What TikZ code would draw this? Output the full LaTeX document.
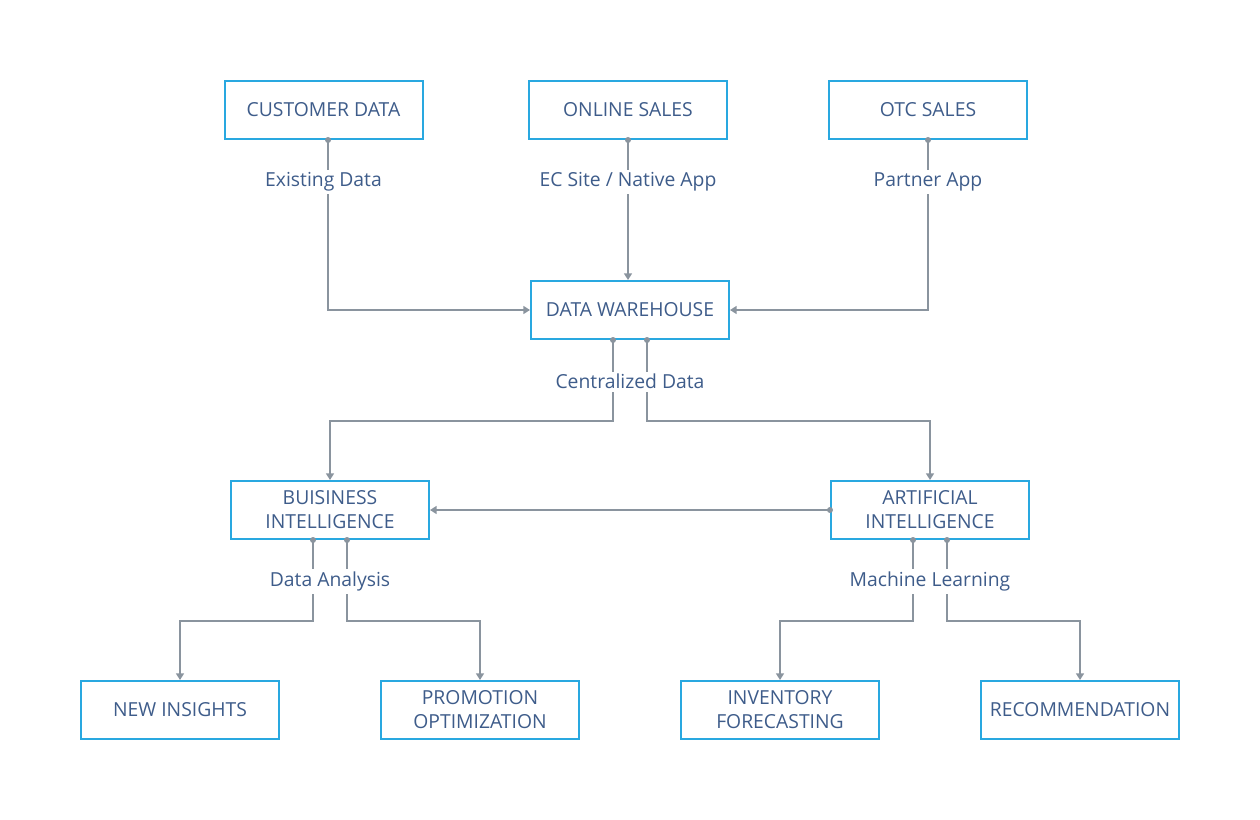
\documentclass[tikz,border=0pt]{standalone}
\usepackage{fontspec}
\setmainfont{Open Sans}
\usepackage{xcolor}
\usetikzlibrary{arrows.meta}
\definecolor{boxblue}{RGB}{41,168,224}
\definecolor{inkblue}{RGB}{62,92,138}
\definecolor{wiregray}{RGB}{138,148,158}
\begin{document}
\begin{tikzpicture}[
  x=0.75pt, y=-0.75pt,
  box/.style={draw=boxblue, line width=1.5pt, minimum width=148.5pt, minimum height=43.5pt,
    inner sep=2pt, align=center, text=inkblue, font=\fontsize{14.5}{18}\selectfont},
  lbl/.style={fill=white, inner sep=2pt, yshift=-2pt, text=inkblue, font=\fontsize{14.5}{18}\selectfont},
  link/.style={draw=wiregray, line width=1.2pt, -{Triangle[width=6pt,length=5pt]}},
  dot/.style={circle, fill=wiregray, inner sep=0pt, minimum size=4.5pt}
]
\useasboundingbox (0,0) rectangle (1260,820);
% sources
\node[box] (cust) at (323.5,110) {CUSTOMER DATA};
\node[box] (online) at (628,110) {ONLINE SALES};
\node[box] (otc) at (928,110) {OTC SALES};
\node[box] (dw) at (630,310) {DATA WAREHOUSE};
% analysis
\node[box] (bi) at (330,510) {BUISINESS\\INTELLIGENCE};
\node[box] (ai) at (930,510) {ARTIFICIAL\\INTELLIGENCE};
% outputs
\node[box] (ins) at (180,710) {NEW INSIGHTS};
\node[box] (promo) at (480,710) {PROMOTION\\OPTIMIZATION};
\node[box] (inv) at (780,710) {INVENTORY\\FORECASTING};
\node[box] (rec) at (1080,710) {RECOMMENDATION};
\coordinate (dwsplit) at (630,421);
\coordinate (bisplit) at (330,621);
\coordinate (aisplit) at (930,621);
% connectors
\draw[link] ([xshift=3.4pt]cust.south) node[dot]{} |- (dw.west);
\draw[link] (online.south) node[dot]{} -- (online.south |- dw.north);
\draw[link] (otc.south) node[dot]{} |- (dw.east);
\draw[link] ([xshift=-12.75pt]dw.south) node[dot]{} -- ([xshift=-12.75pt]dw.south |- dwsplit) -| (bi.north);
\draw[link] ([xshift=12.75pt]dw.south) node[dot]{} -- ([xshift=12.75pt]dw.south |- dwsplit) -| (ai.north);
\draw[link] (ai.west) node[dot]{} -- (bi.east);
\draw[link] ([xshift=-12.75pt]bi.south) node[dot]{} -- ([xshift=-12.75pt]bi.south |- bisplit) -| (ins.north);
\draw[link] ([xshift=12.75pt]bi.south) node[dot]{} -- ([xshift=12.75pt]bi.south |- bisplit) -| (promo.north);
\draw[link] ([xshift=-12.75pt]ai.south) node[dot]{} -- ([xshift=-12.75pt]ai.south |- aisplit) -| (inv.north);
\draw[link] ([xshift=12.75pt]ai.south) node[dot]{} -- ([xshift=12.75pt]ai.south |- aisplit) -| (rec.north);
% labels
\node[lbl] (existing) at (323.5,179) {Existing Data};
\node[lbl] (ecsite) at (628,179) {EC Site / Native App};
\node[lbl] (partner) at (928,179) {Partner App};
\node[lbl] (central) at (630,379) {Centralized Data};
\node[lbl] (analysis) at (330,579) {Data Analysis};
\node[lbl] (learning) at (930,579) {Machine Learning};
\end{tikzpicture}
\end{document}
